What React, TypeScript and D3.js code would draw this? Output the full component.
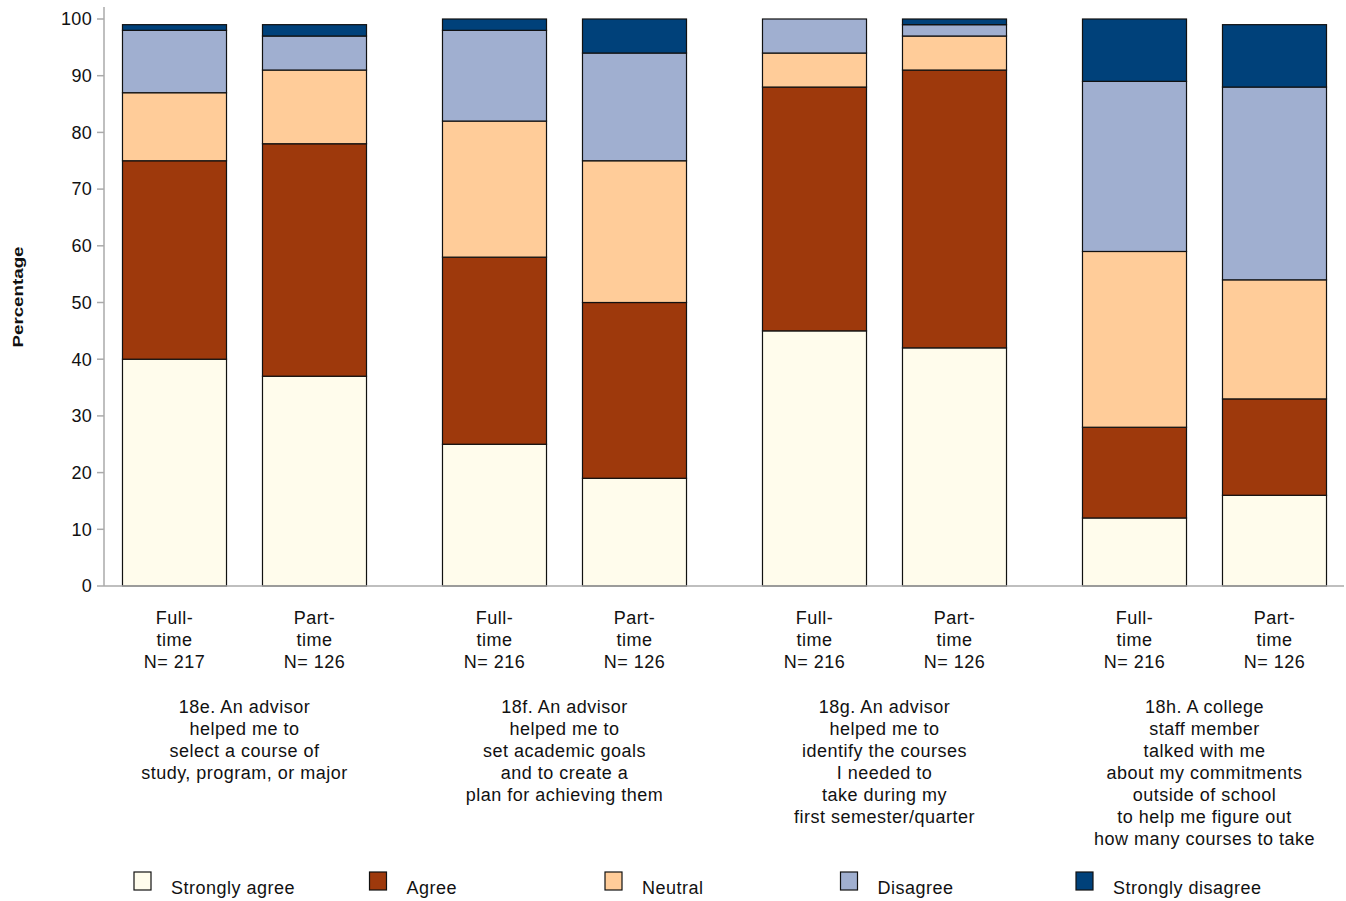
import * as d3 from 'd3';
import * as React from 'react';

// survey items (x-axis groups)
const groups = ['18e', '18f', '18g', '18h'];
const groupLabels: string[][] = [
    ['18e. An advisor', 'helped me to', 'select a course of', 'study, program, or major'],
    ['18f. An advisor', 'helped me to', 'set academic goals', 'and to create a', 'plan for achieving them'],
    ['18g. An advisor', 'helped me to', 'identify the courses', 'I needed to', 'take during my', 'first semester/quarter'],
    ['18h. A college', 'staff member', 'talked with me', 'about my commitments', 'outside of school', 'to help me figure out', 'how many courses to take'],
];
const statuses = ['Full-time', 'Part-time'];
const sampleSizes = [[217, 126], [216, 126], [216, 126], [216, 126]];

const responses = ['Strongly agree', 'Agree', 'Neutral', 'Disagree', 'Strongly disagree'];
const colors = ['#fffcec', '#9e390c', '#ffcc99', '#a0afd0', '#00417a'];

// percentages per response, order: group x status
const stronglyAgree = [[40, 37], [25, 19], [45, 42], [12, 16]];
const agree = [[35, 41], [33, 31], [43, 49], [16, 17]];
const neutral = [[12, 13], [24, 25], [6, 6], [31, 21]];
const disagree = [[11, 6], [16, 19], [6, 2], [30, 34]];
const stronglyDisagree = [[1, 2], [2, 6], [0, 1], [11, 11]];

const yTicks = [0, 10, 20, 30, 40, 50, 60, 70, 80, 90, 100];

const width = 1346;
const height = 901;
const font = '"Liberation Sans", Arial, sans-serif';
const fontSize = 18;
const spacing = 0.5;

export default function App() {
    const series = [stronglyAgree, agree, neutral, disagree, stronglyDisagree];

    const y = d3.scaleLinear().domain([0, 100]).range([586, 19]);
    const xGroup = d3.scaleBand<string>().domain(groups).range([84.5, 1364.5]).padding(0);
    const xInner = d3.scaleBand<string>()
        .domain(statuses)
        .range([20, 300])
        .paddingInner(0.257)
        .paddingOuter(0.1285);

    const axisX = 104;

    const rows = groups.flatMap((g, gi) => statuses.map((s, si) => {
        const row: Record<string, any> = { group: g, status: s, gi, si };
        responses.forEach((r, ri) => { row[r] = series[ri][gi][si]; });
        return row;
    }));
    const stacked = d3.stack<any>().keys(responses)(rows);

    return (
        <svg
            width={width}
            height={height}
            style={{ position: 'absolute', left: 0, top: 0, background: '#fff' }}
            fontFamily={font}
        >
            {/* y axis */}
            <line x1={axisX} x2={axisX} y1={7} y2={y(0)} stroke="#aaa" strokeWidth={1.5} />
            {yTicks.map(t => (
                <g key={t} transform={`translate(0,${y(t)})`}>
                    <line x1={axisX - 7} x2={axisX} stroke="#aaa" strokeWidth={1.5} />
                    <text x={axisX - 12} dy="0.35em" textAnchor="end" fontSize={fontSize} letterSpacing={0.3} fill="#111">{t}</text>
                </g>
            ))}
            <text
                transform="translate(23,297) rotate(-90)"
                textAnchor="middle"
                fontSize={14.5}
                fontWeight="bold"
                fill="#111"
                textLength={101}
                lengthAdjust="spacingAndGlyphs"
            >Percentage</text>

            {/* bars */}
            {stacked.map((layer, li) => (
                <g key={layer.key} fill={colors[li]}>
                    {layer.map((d, i) => {
                        const row = d.data;
                        const x0 = xGroup(row.group)! + xInner(row.status)!;
                        if (d[1] - d[0] <= 0) return null;
                        return (
                            <rect
                                key={i}
                                x={x0}
                                y={y(d[1])}
                                width={xInner.bandwidth()}
                                height={y(d[0]) - y(d[1])}
                                stroke="#111"
                                strokeWidth={1.2}
                            />
                        );
                    })}
                </g>
            ))}

            {/* x axis */}
            <line x1={axisX} x2={1344} y1={y(0)} y2={y(0)} stroke="#aaa" strokeWidth={1.5} />

            {/* status labels */}
            {groups.map((g, gi) => statuses.map((s, si) => {
                const cx = xGroup(g)! + xInner(s)! + xInner.bandwidth() / 2;
                const [first, second] = s.split('-');
                const lines = [first + '-', second, `N= ${sampleSizes[gi][si]}`];
                return (
                    <text key={g + s} x={cx} textAnchor="middle" fontSize={fontSize} letterSpacing={spacing} fill="#111">
                        {lines.map((l, li) => (
                            <tspan key={li} x={cx} y={624 + li * 22}>{l}</tspan>
                        ))}
                    </text>
                );
            }))}

            {/* group labels */}
            {groups.map((g, gi) => {
                const cx = xGroup(g)! + xGroup.bandwidth() / 2;
                return (
                    <text key={g} x={cx} textAnchor="middle" fontSize={fontSize} letterSpacing={spacing} fill="#111">
                        {groupLabels[gi].map((l, li) => (
                            <tspan key={li} x={cx} y={713 + li * 22}>{l}</tspan>
                        ))}
                    </text>
                );
            })}

            {/* legend */}
            {responses.map((r, ri) => {
                const lx = 134 + ri * 235.5;
                return (
                    <g key={r}>
                        <rect x={lx} y={872} width={17} height={18} fill={colors[ri]} stroke="#111" strokeWidth={1.2} />
                        <text x={lx + 37} y={894} fontSize={fontSize} letterSpacing={spacing} fill="#111">{r}</text>
                    </g>
                );
            })}
        </svg>
    );
}
